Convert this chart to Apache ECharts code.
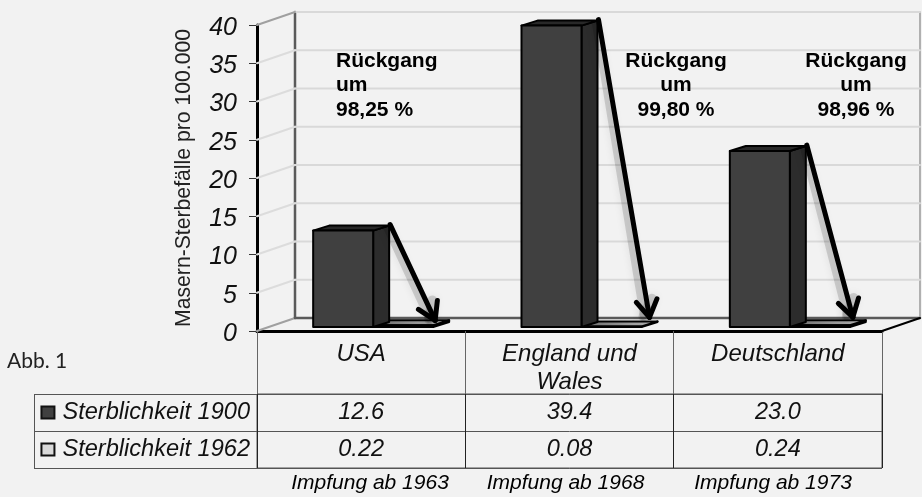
<!DOCTYPE html>
<html><head><meta charset="utf-8">
<script src="https://cdn.jsdelivr.net/npm/echarts@6/dist/echarts.min.js"></script>
<style>html,body{margin:0;padding:0;background:#f2f2f2}#c{width:922px;height:497px}</style>
</head><body><div id="c"></div>
<script>
const categories = ['USA', 'England und\nWales', 'Deutschland'];
const mortality1900 = [12.6, 39.4, 23.0];
const mortality1962 = [0.22, 0.08, 0.24];
const declineLabels = ['98,25 %', '99,80 %', '98,96 %'];
const vaccinationNotes = ['Impfung ab 1963', 'Impfung ab 1968', 'Impfung ab 1973'];
const rowNames = ['Sterblichkeit 1900', 'Sterblichkeit 1962'];
const yTicks = [0, 5, 10, 15, 20, 25, 30, 35, 40];
const yTitle = 'Masern-Sterbefälle pro 100.000';
const figureLabel = 'Abb. 1';
const declineWord = 'Rückgang';
const declineWord2 = 'um';

const FONT = '"Liberation Sans", Arial, sans-serif';
const L = 257, T = 25, W = 625, H = 306;
const WALL_DX = 38, WALL_DY = -13;
const BAR_W = 60, BAR_OFF = -48, BASE_DY = -4, DEPTH_X = 16, DEPTH_Y = -5;

function poly(points, fill, stroke, lw) {
  return { type: 'polygon', shape: { points }, style: { fill, stroke, lineWidth: lw, lineJoin: 'round' } };
}
function line(x1, y1, x2, y2, stroke, lw, extra) {
  return { type: 'line', shape: { x1, y1, x2, y2 }, style: Object.assign({ stroke, lineWidth: lw, lineCap: 'round' }, extra || {}) };
}
function barGeom(api, k) {
  const i = api.value(0), v = api.value(1);
  const top = api.coord([i, v]), base = api.coord([i, 0]);
  const x0 = top[0] + BAR_OFF + k * BAR_W, x1 = x0 + BAR_W;
  return { x0, x1, yt: top[1] + BASE_DY, yb: base[1] + BASE_DY };
}
function barRender(k, front, side, topc, lw) {
  return function (params, api) {
    const g = barGeom(api, k);
    return { type: 'group', children: [
      poly([[g.x1, g.yt], [g.x1 + DEPTH_X, g.yt + DEPTH_Y], [g.x1 + DEPTH_X, g.yb + DEPTH_Y], [g.x1, g.yb]], side, '#000', lw),
      poly([[g.x0, g.yt], [g.x0 + DEPTH_X, g.yt + DEPTH_Y], [g.x1 + DEPTH_X, g.yt + DEPTH_Y], [g.x1, g.yt]], topc, '#000', lw),
      poly([[g.x0, g.yt], [g.x1, g.yt], [g.x1, g.yb], [g.x0, g.yb]], front, '#000', lw)
    ] };
  };
}
function wallRender(params, api) {
  const c = params.coordSys, v = api.value(1);
  const y = api.coord([0, v])[1];
  const kids = [];
  const edge = v === 0 || v === 40;
  kids.push(line(c.x + WALL_DX, y + WALL_DY, c.x + c.width + WALL_DX, y + WALL_DY, v === 0 ? '#5a5a5a' : '#d9d9d9', v === 0 ? 2.5 : 2));
  kids.push(line(c.x, y, c.x + WALL_DX, y + WALL_DY, edge ? '#a0a0a0' : '#dcdcdc', 2));
  if (v === 0) {
    kids.push(line(c.x + WALL_DX, y + WALL_DY, c.x + WALL_DX, c.y + WALL_DY, '#5a5a5a', 2.5));
    kids.push(line(c.x + c.width + WALL_DX, y + WALL_DY, c.x + c.width + WALL_DX, c.y + WALL_DY, '#9a9a9a', 1.5));
    kids.push(line(c.x + c.width, y, c.x + c.width + WALL_DX, y + WALL_DY, '#000', 2));
  }
  return { type: 'group', children: kids };
}
function arrowRender(params, api) {
  const i = api.value(0);
  const top = api.coord([i, api.value(1)]), low = api.coord([i, api.value(2)]);
  const x0 = top[0] + BAR_OFF;
  const sx = x0 + BAR_W + DEPTH_X + 1, sy = top[1] + BASE_DY + DEPTH_Y - 1;
  const tx = x0 + [122, 128, 123][i], ty = low[1] + BASE_DY + DEPTH_Y + [0, -4, -3][i];
  const a = Math.atan2(ty - sy, tx - sx), len = 20, sp = 0.55;
  const ax = tx - len * Math.cos(a - sp), ay = ty - len * Math.sin(a - sp);
  const bx = tx - len * Math.cos(a + sp), by = ty - len * Math.sin(a + sp);
  const soft = { opacity: 0.14, shadowColor: 'rgba(0,0,0,0.6)', shadowBlur: 8 };
  return { type: 'group', children: [
    line(sx - 3, sy + 4, tx - 6, ty - 1, '#000', 7, soft),
    line(tx - 6, ty - 1, bx - 5, by, '#000', 10, soft),
    line(sx, sy, tx, ty, '#000', 5),
    line(tx, ty, ax, ay, '#000', 5),
    line(tx, ty, bx, by, '#000', 5)
  ] };
}

const rows = [mortality1900.map(v => v.toFixed(1)), mortality1962.map(v => v.toFixed(2))];
const tableData = [];
rows.forEach((r, ri) => r.forEach((t, ci) => tableData.push({ value: [ci, ri], text: t })));

const swatch = (bg) => ({ width: 11, height: 10, backgroundColor: bg, borderColor: '#111', borderWidth: 2 });
const floorGradient = { type: 'linear', x: 0, y: 0, x2: 1, y2: 0, colorStops: [{ offset: 0, color: '#6a6a6a' }, { offset: 1, color: '#b8b8b8' }] };

const annX = [336, 676, 856], annAlign = ['left', 'center', 'center'];
const graphics = [
  { type: 'text', x: 7, y: 361, style: { text: figureLabel, font: '21px Lato, sans-serif', fill: '#222', textVerticalAlign: 'middle' } },
  { type: 'line', shape: { x1: 34.5, y1: 394, x2: 34.5, y2: 468 }, style: { stroke: '#555', lineWidth: 1 } }
];
declineLabels.forEach((t, i) => {
  [declineWord, declineWord2, t].forEach((s, j) => graphics.push({
    type: 'text', x: annX[i], y: 61 + j * 24.5, z: 20,
    style: { text: s, font: 'bold 21px ' + FONT, fill: '#000', textAlign: annAlign[i], textVerticalAlign: 'middle' }
  }));
});
const noteX = [370, 565.5, 773];
vaccinationNotes.forEach((t, i) => graphics.push({
  type: 'text', x: noteX[i], y: 483, style: { text: t, font: 'italic 21px ' + FONT, fill: '#000', textAlign: 'center', textVerticalAlign: 'middle' }
}));

const chart = echarts.init(document.getElementById('c'), null, { renderer: 'canvas' });
chart.setOption({
  animation: false,
  backgroundColor: '#f2f2f2',
  tooltip: { show: false },
  grid: [
    { left: L, top: T, width: W, height: H },
    { left: L, top: 394, width: W, height: 74, show: true, borderColor: '#555', borderWidth: 1 }
  ],
  xAxis: [
    { type: 'category', gridIndex: 0, data: categories,
      axisLine: { lineStyle: { color: '#000', width: 3 } },
      axisTick: { show: true, length: 63, lineStyle: { color: '#666', width: 1 } },
      axisLabel: { fontFamily: FONT, fontStyle: 'italic', fontSize: 24, color: '#111', lineHeight: 28, margin: 9, interval: 0 } },
    { type: 'category', gridIndex: 1, data: categories,
      axisLine: { show: false }, axisTick: { show: false }, axisLabel: { show: false },
      splitLine: { show: true, lineStyle: { color: '#222', width: 1 } } }
  ],
  yAxis: [
    { type: 'value', gridIndex: 0, min: 0, max: 40, interval: 5,
      name: yTitle, nameLocation: 'middle', nameRotate: 90, nameGap: 62,
      nameTextStyle: { fontFamily: FONT, fontSize: 21.2, color: '#222' },
      axisLine: { show: true, lineStyle: { color: '#000', width: 3 } },
      axisTick: { show: true, length: 8, lineStyle: { color: '#333', width: 1 } },
      axisLabel: { fontFamily: FONT, fontStyle: 'italic', fontSize: 25, color: '#111', margin: 20, verticalAlign: 'top', lineHeight: 6 },
      splitLine: { show: false } },
    { type: 'category', gridIndex: 1, inverse: true, data: rowNames,
      axisLine: { show: false },
      axisTick: { show: true, length: 223, lineStyle: { color: '#555', width: 1 } },
      axisLabel: { margin: 7, formatter: (v, i) => '{s' + i + '|}{g|}{t|' + v + '}',
        rich: { s0: swatch('#404040'), s1: swatch('#d9d9d9'), g: { width: 9 },
          t: { fontFamily: FONT, fontStyle: 'italic', fontSize: 23.6, color: '#111' } } },
      splitLine: { show: true, lineStyle: { color: '#555', width: 1 } } }
  ],
  graphic: graphics,
  series: [
    { type: 'custom', name: 'Raster', xAxisIndex: 0, yAxisIndex: 0, z: 1, silent: true,
      renderItem: wallRender, encode: { x: 0, y: 1 }, data: yTicks.map(v => [0, v]) },
    { type: 'custom', name: rowNames[1], xAxisIndex: 0, yAxisIndex: 0, z: 4, silent: true,
      renderItem: barRender(1, '#111', '#333', floorGradient, 2), encode: { x: 0, y: 1 },
      data: mortality1962.map((v, i) => [i, v]) },
    { type: 'custom', name: rowNames[0], xAxisIndex: 0, yAxisIndex: 0, z: 5, silent: true,
      renderItem: barRender(0, '#404040', '#2c2c2c', '#282828', 2), encode: { x: 0, y: 1 },
      data: mortality1900.map((v, i) => [i, v]) },
    { type: 'custom', name: 'Rückgang', xAxisIndex: 0, yAxisIndex: 0, z: 6, silent: true,
      renderItem: arrowRender, encode: { x: 0, y: 1 },
      data: mortality1900.map((v, i) => [i, v, mortality1962[i]]) },
    { type: 'scatter', name: 'Tabelle', xAxisIndex: 1, yAxisIndex: 1, symbolSize: 0, silent: true,
      itemStyle: { opacity: 1 },
      data: tableData,
      label: { show: true, position: 'inside', formatter: p => p.data.text, opacity: 1,
        fontFamily: FONT, fontStyle: 'italic', fontSize: 23.5, color: '#111' } }
  ]
});
</script></body></html>
